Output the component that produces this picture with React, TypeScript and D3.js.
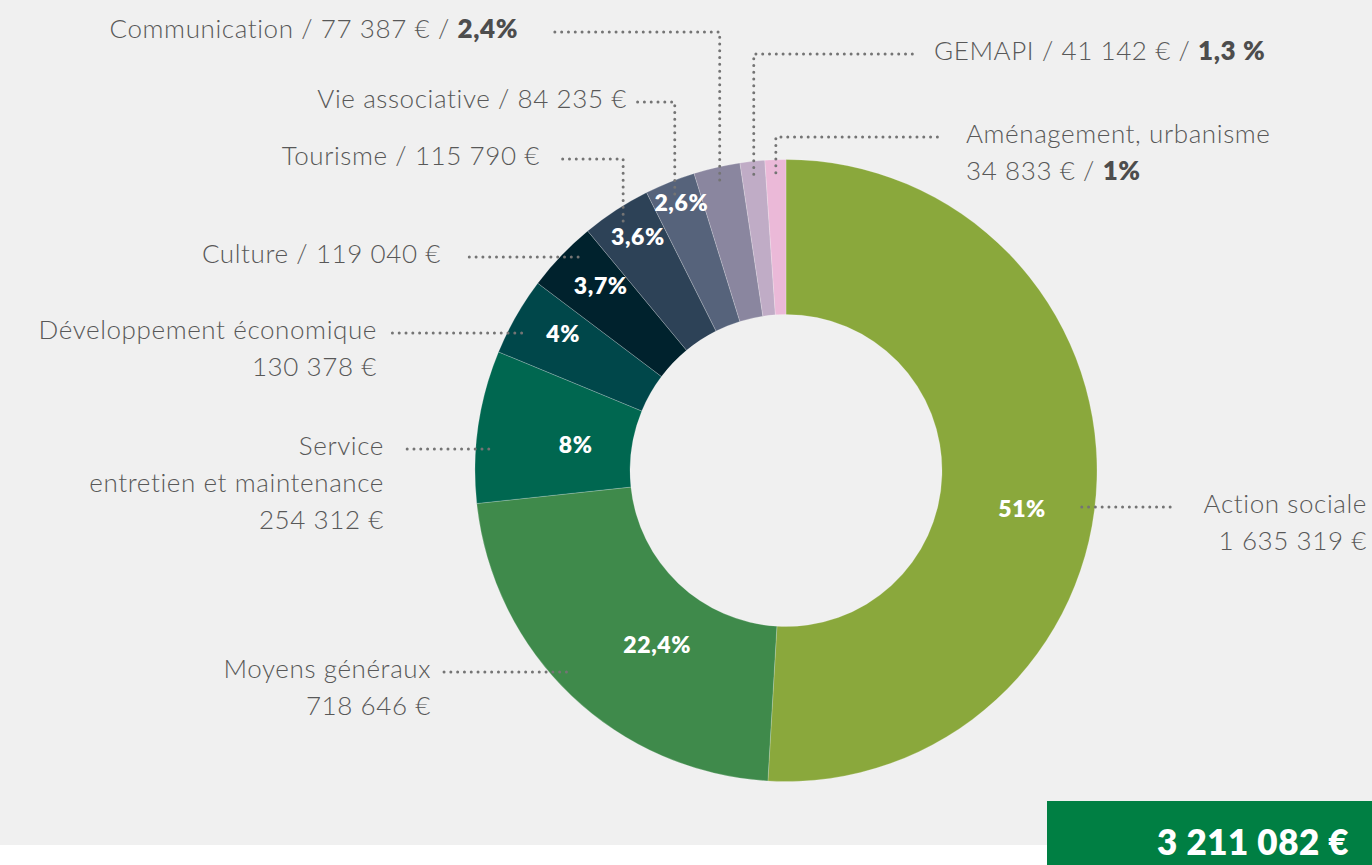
import { useEffect } from "react";
import * as d3 from "d3";

// budget split, clockwise from 12 o'clock
const categories = [
  "Action sociale",
  "Moyens généraux",
  "Service\nentretien et maintenance",
  "Développement économique",
  "Culture",
  "Tourisme",
  "Vie associative",
  "Communication",
  "GEMAPI",
  "Aménagement, urbanisme",
];
const amounts = [1635319, 718646, 254312, 130378, 119040, 115790, 84235, 77387, 41142, 34833];
const pctLabels = ["51%", "22,4%", "8%", "4%", "3,7%", "3,6%", "2,6%", "2,4%", "1,3 %", "1%"];
const sliceColors = [
  "#8aa83c", "#3f8a4b", "#006750", "#00474a", "#00222d",
  "#2d4257", "#56637b", "#8a869f", "#c0acc6", "#ebb9d8",
];
const totalLabel = "3 211 082 €";

// how each callout is written: inline = "name / amount", stack = name then amount below
const calloutKind = ["stack", "stack", "stack", "stack", "inline", "inline", "inline", "inlinePct", "inlinePct", "stackPct"];
const showPctInside = [true, true, true, true, true, true, true, false, false, false];

// layout of the callouts (annotation placement, not data)
const calloutPos = [
  { anchor: "end", x: 1367, y: 513, lineX: 1172, route: "h" },
  { anchor: "end", x: 431, y: 678, lineX: 443, route: "h" },
  { anchor: "end", x: 384, y: 455, lineX: 403, route: "h" },
  { anchor: "end", x: 377, y: 339, lineX: 392, route: "h" },
  { anchor: "end", x: 441, y: 263, lineX: 467, route: "h" },
  { anchor: "end", x: 540, y: 165, lineX: 556, route: "v" },
  { anchor: "end", x: 627, y: 108, lineX: 637, route: "v" },
  { anchor: "end", x: 518, y: 38, lineX: 551, route: "v" },
  { anchor: "start", x: 934, y: 60, lineX: 918, route: "v" },
  { anchor: "start", x: 966, y: 143, lineX: 943, route: "v" },
];
// where the white % sits inside each slice: [radius, angle nudge in degrees]
const pctPos = [[239, 7.3], [216, -7], [212, -1], [262, 2], [262, 1.3], [277, 0.8], [288, 0.6]];

const W = 1372;
const H = 865;
const cx = 786;
const cy = 470.5;
const rOuter = 311;
const rInner = 156;
const rLead = 298;
const lineH = 37;
const textColor = "#585858";

const fr = d3.formatLocale({ decimal: ",", thousands: "\u00a0", grouping: [3], currency: ["", " €"] });
const fmt = fr.format(",d");

export default function App() {
  useEffect(() => {
    document.body.style.margin = "0";
  }, []);

  const pie = d3.pie<number>().sort(null).value((d) => d).startAngle(0).endAngle(Math.PI * 2);
  const arcs = pie(amounts);
  const arc = d3.arc<d3.PieArcDatum<number>>().innerRadius(rInner).outerRadius(rOuter);

  const polar = (r: number, a: number): [number, number] => [cx + r * Math.sin(a), cy - r * Math.cos(a)];

  return (
    <svg width={W} height={H} style={{ display: "block" }} fontFamily="Lato, 'Noto Sans', sans-serif">
      <rect x={0} y={0} width={W} height={H} fill="#ffffff" />
      <rect x={0} y={0} width={W} height={845} fill="#f0f0f0" />

      <g transform={`translate(${cx},${cy})`}>
        {arcs.map((a, i) => (
          <path key={i} d={arc(a) ?? ""} fill={sliceColors[i]} stroke="#ffffff" strokeOpacity={0.35} strokeWidth={0.6} />
        ))}
      </g>

      {/* dotted leader lines */}
      {arcs.map((a, i) => {
        const p = calloutPos[i];
        const ly = p.y - 6;
        const mid = (a.startAngle + a.endAngle) / 2;
        let pts: [number, number][];
        if (p.route === "v") {
          const [px, py] = polar(rLead, mid);
          pts = [[px, py], [px, ly], [p.lineX, ly]];
        } else {
          const dy = ly - cy;
          const dx = Math.sqrt(Math.max(rLead * rLead - dy * dy, 0));
          const right = Math.sin(mid) > 0;
          pts = [[right ? cx + dx : cx - dx, ly], [p.lineX, ly]];
        }
        return (
          <path
            key={i}
            d={d3.line()(pts) ?? ""}
            fill="none"
            stroke="#747474"
            strokeWidth={3}
            strokeDasharray="0 6.8"
            strokeLinecap="round"
          />
        );
      })}

      {/* white percentages inside slices */}
      {arcs.map((a, i) => {
        if (!showPctInside[i]) return null;
        const [r, nudge] = pctPos[i];
        const mid = (a.startAngle + a.endAngle) / 2 + (nudge * Math.PI) / 180;
        const [x, y] = polar(r, mid);
        return (
          <text key={i} x={x} y={y} textAnchor="middle" dominantBaseline="central" fill="#ffffff" fontSize={23} fontWeight={800} letterSpacing={0.6}>
            {pctLabels[i]}
          </text>
        );
      })}

      {/* callouts */}
      {categories.map((name, i) => {
        const p = calloutPos[i];
        const kind = calloutKind[i];
        const amt = `${fmt(amounts[i])} €`;
        const nameLines = name.split("\n");
        const lines: { t: string; b?: string }[] = [];
        if (kind === "inline") lines.push({ t: `${nameLines[0]} / ${amt}` });
        else if (kind === "inlinePct") lines.push({ t: `${nameLines[0]} / ${amt} / `, b: pctLabels[i] });
        else if (kind === "stackPct") {
          nameLines.forEach((l) => lines.push({ t: l }));
          lines.push({ t: `${amt} / `, b: pctLabels[i] });
        } else {
          nameLines.forEach((l) => lines.push({ t: l }));
          lines.push({ t: amt });
        }
        return (
          <text key={i} textAnchor={p.anchor as "start" | "end"} fill={textColor} fontSize={26} fontWeight={300} letterSpacing={0.6}>
            {lines.map((l, j) => (
              <tspan key={j} x={p.x} y={p.y + j * lineH}>
                {l.t}
                {l.b ? <tspan fontWeight={800} fill="#4d4d4d">{l.b}</tspan> : null}
              </tspan>
            ))}
          </text>
        );
      })}

      {/* total */}
      <rect x={1047} y={801} width={W - 1047} height={H - 801} fill="#007f43" />
      <text x={1157} y={855} fill="#ffffff" fontSize={35} fontWeight={800} letterSpacing={0.5}>
        {totalLabel}
      </text>
    </svg>
  );
}
